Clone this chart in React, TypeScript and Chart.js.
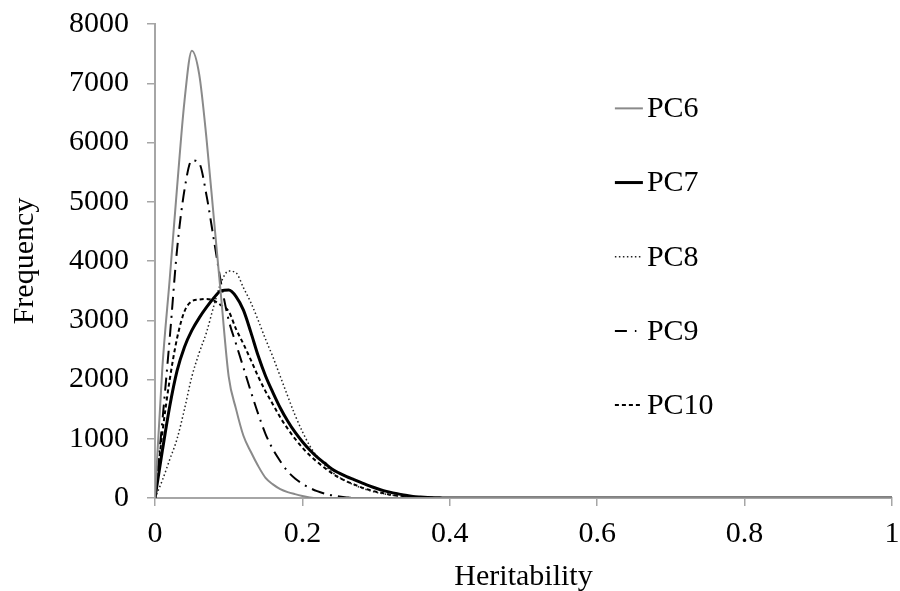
import React, { useEffect, useRef } from "react";
import { Chart, registerables } from "chart.js";

Chart.register(...registerables);

const heritability = [
  0, 0.01, 0.02, 0.03, 0.04, 0.05, 0.06, 0.07, 0.08, 0.09,
  0.1, 0.11, 0.12, 0.13, 0.14, 0.15, 0.16, 0.17, 0.18, 0.19,
  0.2, 0.21, 0.22, 0.23, 0.24, 0.25, 0.26, 0.27, 0.28, 0.29,
  0.3, 0.31, 0.32, 0.33, 0.34, 0.35, 0.36, 0.37, 0.38, 0.39,
  0.4, 0.5, 0.6, 0.7, 0.8, 0.9, 1.0,
];

const pc6 = [
  0, 2200, 3700, 5250, 6700, 7550, 7150, 6050, 4700, 3350,
  2050, 1500, 1050, 780, 540, 340, 230, 150, 100, 65,
  35, 10, 0, 0, 0, 0, 0, 0, 0, 0,
  0, 0, 0, 0, 0, 0, 0, 0, 0, 0,
  0, 0, 0, 0, 0, 0, 0,
];

const pc7 = [
  0, 800, 1550, 2150, 2550, 2830, 3040, 3220, 3380, 3500,
  3510, 3400, 3170, 2800, 2400, 2060, 1780, 1520, 1300, 1110,
  950, 810, 690, 590, 490, 420, 360, 310, 260, 210,
  165, 125, 95, 70, 45, 25, 15, 8, 4, 2,
  0, 0, 0, 0, 0, 0, 0,
];

const pc8 = [
  0, 300, 650, 1000, 1500, 2050, 2450, 2800, 3250, 3650,
  3830, 3800, 3550, 3300, 3000, 2680, 2380, 2050, 1720, 1400,
  1120, 880, 700, 560, 440, 350, 280, 220, 170, 130,
  95, 70, 50, 35, 22, 14, 8, 4, 2, 0,
  0, 0, 0, 0, 0, 0, 0,
];

const pc9 = [
  0, 1300, 2700, 4200, 5200, 5700, 5650, 5100, 4350, 3600,
  3000, 2600, 2200, 1800, 1420, 1080, 820, 620, 450, 330,
  240, 170, 115, 75, 45, 25, 10, 0, 0, 0,
  0, 0, 0, 0, 0, 0, 0, 0, 0, 0,
  0, 0, 0, 0, 0, 0, 0,
];

const pc10 = [
  0, 1100, 2000, 2700, 3150, 3320, 3350, 3360, 3330, 3250,
  3150, 2850, 2600, 2330, 2050, 1800, 1580, 1360, 1170, 1000,
  850, 720, 610, 510, 420, 340, 280, 230, 180, 140,
  105, 80, 55, 38, 25, 15, 8, 4, 2, 0,
  0, 0, 0, 0, 0, 0, 0,
];

const seriesNames = ["PC6", "PC7", "PC8", "PC9", "PC10"];
const xTicks = [0, 0.2, 0.4, 0.6, 0.8, 1];
const yTicks = [0, 1000, 2000, 3000, 4000, 5000, 6000, 7000, 8000];

const FONT = "'Liberation Serif', 'DejaVu Serif', serif";

const styles = [
  { color: "#8a8a8a", width: 2, dash: [] as number[] },
  { color: "#000000", width: 3, dash: [] as number[] },
  { color: "#222222", width: 1.5, dash: [1.5, 2.5] },
  { color: "#000000", width: 2, dash: [13, 6, 2, 6] },
  { color: "#000000", width: 2, dash: [4, 3] },
];

export default function App() {
  const ref = useRef<HTMLCanvasElement | null>(null);

  useEffect(() => {
    if (!ref.current) return;
    const all = [pc6, pc7, pc8, pc9, pc10];
    const datasets = all.map((vals, i) => ({
      label: seriesNames[i],
      data: vals.map((v, j) => ({ x: heritability[j], y: v })),
      borderColor: styles[i].color,
      borderWidth: styles[i].width,
      borderDash: styles[i].dash,
      pointRadius: 0,
      fill: false,
      cubicInterpolationMode: "monotone" as const,
    }));

    const legend2 = {
      id: "customLegend2",
      afterDraw(chart: any) {
        const { ctx, chartArea } = chart;
        const w = chartArea.right - chartArea.left;
        const h = chartArea.bottom - chartArea.top;
        const x0 = chartArea.left + w * 0.624;
        const lineLen = 28;
        ctx.save();
        ctx.font = `30px ${FONT}`;
        ctx.textBaseline = "middle";
        ctx.fillStyle = "#000";
        for (let i = 0; i < seriesNames.length; i++) {
          const y = chartArea.top + h * (0.178 + i * 0.1565);
          ctx.beginPath();
          ctx.strokeStyle = styles[i].color;
          ctx.lineWidth = styles[i].width;
          ctx.setLineDash(i === 3 ? [12, 8, 1.5, 8] : styles[i].dash);
          ctx.moveTo(x0, y);
          ctx.lineTo(x0 + lineLen, y);
          ctx.stroke();
          ctx.setLineDash([]);
          ctx.fillText(seriesNames[i], x0 + lineLen + 4, y + 1);
        }
        ctx.restore();
      },
    };

    const chart = new Chart(ref.current, {
      type: "line",
      data: { datasets },
      options: {
        animation: false,
        responsive: false,
        maintainAspectRatio: false,
        layout: { padding: { top: 24, right: 8, left: 0, bottom: 0 } },
        plugins: { legend: { display: false }, tooltip: { enabled: false } },
        scales: {
          x: {
            type: "linear",
            min: 0,
            max: 1,
            afterBuildTicks: (s: any) => {
              s.ticks = xTicks.map((v) => ({ value: v }));
            },
            afterFit: (s: any) => {
              s.height = 93;
              s.paddingLeft = 0;
              s.paddingRight = 0;
            },
            grid: {
              display: true,
              drawOnChartArea: false,
              drawTicks: true,
              tickLength: 8,
              color: "#a6a6a6",
              lineWidth: 1.5,
            },
            border: { display: true, color: "#a6a6a6", width: 2 },
            ticks: {
              color: "#000",
              font: { family: FONT, size: 30 },
              padding: 10,
              maxRotation: 0,
              callback: (v: any) => String(v),
            },
            title: {
              display: true,
              text: "Heritability",
              color: "#000",
              font: { family: FONT, size: 30 },
              padding: { top: 0, bottom: -4 },
            },
          },
          y: {
            type: "linear",
            min: 0,
            max: 8000,
            afterBuildTicks: (s: any) => {
              s.ticks = yTicks.map((v) => ({ value: v }));
            },
            afterFit: (s: any) => {
              s.width = 155;
              s.paddingTop = 0;
              s.paddingBottom = 0;
            },
            grid: {
              display: true,
              drawOnChartArea: false,
              drawTicks: true,
              tickLength: 8,
              color: "#a6a6a6",
              lineWidth: 1.5,
            },
            border: { display: true, color: "#a6a6a6", width: 2 },
            ticks: {
              color: "#000",
              font: { family: FONT, size: 30 },
              padding: 18,
              callback: (v: any) => String(v),
            },
            title: {
              display: true,
              text: "Frequency",
              color: "#000",
              font: { family: FONT, size: 30 },
              padding: { top: 7, bottom: 0 },
            },
          },
        },
      },
      plugins: [legend2],
    });
    return () => chart.destroy();
  }, []);

  return (
    <div style={{ position: "fixed", left: 0, top: 0, width: 900, height: 591, background: "#fff" }}>
      <canvas ref={ref} width={900} height={591} style={{ display: "block" }} />
    </div>
  );
}
